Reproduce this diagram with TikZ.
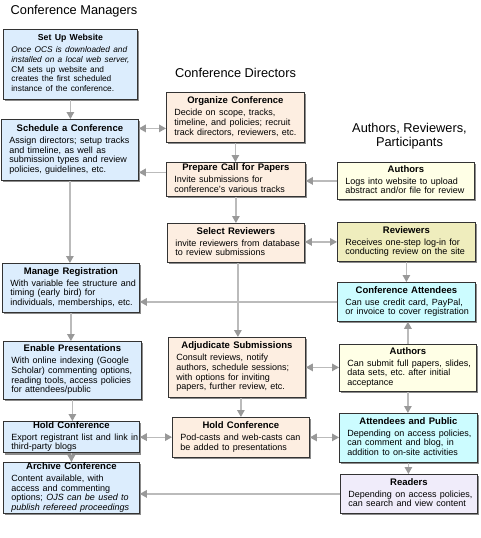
\documentclass[tikz,border=0pt]{standalone}
\usepackage{fontspec}
\setmainfont{Liberation Sans}
\usetikzlibrary{arrows.meta,shadows}
\definecolor{cmblue}{HTML}{DCEDFD}
\definecolor{cdpeach}{HTML}{FDEEE1}
\definecolor{auyellow}{HTML}{FFFFE6}
\definecolor{revyellow}{HTML}{EFEDBD}
\definecolor{attcyan}{HTML}{CCFCFF}
\definecolor{readlav}{HTML}{F0ECFA}
\definecolor{boxborder}{HTML}{333333}
\definecolor{linegray}{HTML}{BBBBBB}
\definecolor{tipgray}{HTML}{999999}
\def\tsz{9.5}\def\bsz{9.0}
\newcommand\bxt[2]{\frenchspacing{\centering\fontsize{\tsz}{10}\selectfont\bfseries #1\par}\fontsize{\bsz}{10}\selectfont\renewcommand\arraystretch{0.97}\noindent\begin{tabular}[t]{@{}l@{}}#2\end{tabular}}
\tikzset{
  box/.style={draw=boxborder, line width=0.8pt, anchor=north west, inner xsep=0pt, inner ysep=0pt,
    drop shadow={shadow xshift=1.8pt, shadow yshift=-1.8pt, fill=black!45, opacity=1}},
  head/.style={font=\fontsize{12.8}{14}\selectfont, inner sep=0pt, anchor=base},
  conn/.style={draw=linegray, line width=1.3pt, -{Triangle[length=7pt,width=7.5pt,color=tipgray]}},
  dconn/.style={draw=linegray, line width=1.3pt, {Triangle[length=7pt,width=7.5pt,color=tipgray]}-{Triangle[length=7pt,width=7.5pt,color=tipgray]}}
}
\begin{document}
\begin{tikzpicture}[x=1pt,y=-1pt]
\useasboundingbox (0,0) rectangle (480,538);
% headings
\node[head] (hcm) at (74,14.2) {Conference Managers};
\node[head] (hcd) at (235.5,77.5) {Conference Directors};
\node[head] (har1) at (409.5,132.5) {Authors, Reviewers,};
\node[head] (har2) at (409.5,146) {Participants};
% left column
\node[box, fill=cmblue, minimum width=134pt, minimum height=70pt, text width=118pt] (setup) at (3,29)
 {\def\tsz{8.7}\def\bsz{8.3}\bxt{Set Up Website}{\itshape Once OCS is downloaded and\\ \itshape installed on a local web server,\\CM sets up website and\\creates the first scheduled\\instance of the conference.}};
\node[box, fill=cmblue, minimum width=137pt, minimum height=61pt, text width=121pt] (sched) at (1,119)
 {\bxt{Schedule a Conference}{Assign directors; setup tracks\\and timeline, as well as\\submission types and review\\policies, guidelines, etc.}};
\node[box, fill=cmblue, minimum width=137pt, minimum height=49pt, text width=121pt] (mreg) at (2,263)
 {\bxt{Manage Registration}{With variable fee structure and\\timing (early bird) for\\individuals, memberships, etc.}};
\node[box, fill=cmblue, minimum width=138pt, minimum height=58pt, text width=122pt] (enable) at (3,341)
 {\bxt{Enable Presentations}{With online indexing (Google\\Scholar) commenting options,\\reading tools, access policies\\for attendees/public}};
\node[box, fill=cmblue, minimum width=136pt, minimum height=31pt, text width=120pt] (holdl) at (3,421)
 {\bxt{Hold Conference}{Export registrant list and link in\\third-party blogs}};
\node[box, fill=cmblue, minimum width=136pt, minimum height=51pt, text width=120pt] (archive) at (3,462)
 {\bxt{Archive Conference}{Content available, with\\access and commenting\\options; \itshape OJS can be used to\\ \itshape publish refereed proceedings}};
% middle column
\node[box, fill=cdpeach, minimum width=138pt, minimum height=50pt, text width=122pt] (org) at (166,92)
 {\bxt{Organize Conference}{Decide on scope, tracks,\\timeline, and policies; recruit\\track directors, reviewers, etc.}};
\node[box, fill=cdpeach, minimum width=139pt, minimum height=34pt, text width=123pt] (prep) at (166,162)
 {\bxt{Prepare Call for Papers}{Invite submissions for\\conference's various tracks}};
\node[box, fill=cdpeach, minimum width=137pt, minimum height=39pt, text width=121pt] (sel) at (167,223)
 {\bxt{Select Reviewers}{invite reviewers from database\\to review submissions}};
\node[box, fill=cdpeach, minimum width=137pt, minimum height=60pt, text width=121pt] (adj) at (168,337)
 {\bxt{Adjudicate Submissions}{Consult reviews, notify\\authors, schedule sessions;\\with options for inviting\\papers, further review, etc.}};
\node[box, fill=cdpeach, minimum width=137pt, minimum height=40pt, text width=121pt] (holdm) at (172,417)
 {\bxt{Hold Conference}{Pod-casts and web-casts can\\be added to presentations}};
% right column
\node[box, fill=auyellow, minimum width=137pt, minimum height=37pt, text width=121pt] (auth1) at (337,162)
 {\bxt{Authors}{Logs into website to upload\\abstract and/or file for review}};
\node[box, fill=revyellow, minimum width=138pt, minimum height=39pt, text width=122pt] (rev) at (337,222)
 {\bxt{Reviewers}{Receives one-step log-in for\\conducting review on the site}};
\node[box, fill=attcyan, minimum width=138pt, minimum height=39pt, text width=122pt] (catt) at (337,282)
 {\bxt{Conference Attendees}{Can use credit card, PayPal,\\or invoice to cover registration}};
\node[box, fill=auyellow, minimum width=137pt, minimum height=47pt, text width=121pt] (auth2) at (339,344)
 {\bxt{Authors}{Can submit full papers, slides,\\data sets, etc. after initial\\acceptance}};
\node[box, fill=attcyan, minimum width=138pt, minimum height=49pt, text width=122pt] (attp) at (339,413)
 {\bxt{Attendees and Public}{Depending on access policies,\\can comment and blog, in\\addition to on-site activities}};
\node[box, fill=readlav, minimum width=137pt, minimum height=39pt, text width=121pt] (read) at (340,474)
 {\bxt{Readers}{Depending on access policies,\\can search and view content}};
% helper coordinates
\coordinate (orgc) at ([yshift=-11pt]org.west);
\coordinate (prepc) at ([yshift=7pt]prep.west);
% connectors
\draw[conn] (setup.south) -- (setup.south |- sched.north);
\draw[dconn] (sched.east |- orgc) -- (orgc);
\draw[conn] (prepc) -- (sched.east |- prepc);
\draw[conn] (org.south) -- (org.south |- prep.north);
\draw[conn] (prep.south) -- (prep.south |- sel.north);
\draw[conn] (auth1.west) -- (prep.east |- auth1.west);
\draw[dconn] (sel.east |- rev.west) -- (rev.west);
\draw[conn] (sched.south) -- (sched.south |- mreg.north);
\draw[conn] (catt.west) -- (mreg.east |- catt.west);
\draw[conn] ([xshift=2pt]sel.south) -- ([xshift=2pt]sel.south |- adj.north);
\draw[conn] (rev.south) -- (rev.south |- catt.north);
\draw[conn] (auth2.north) -- (auth2.north |- catt.south);
\draw[dconn] (adj.east) -- (auth2.west |- adj.east);
\draw[conn] (mreg.south) -- (mreg.south |- enable.north);
\draw[conn] (enable.south) -- (enable.south |- holdl.north);
\draw[dconn] (holdl.east) -- (holdm.west |- holdl.east);
\draw[conn] (holdm.north |- adj.south) -- (holdm.north);
\draw[dconn] (holdm.east) -- (attp.west |- holdm.east);
\draw[conn] (auth2.south) -- (auth2.south |- attp.north);
\draw[conn] (attp.south) -- (attp.south |- read.north);
\draw[conn] (holdl.south) -- (holdl.south |- archive.north);
\draw[conn] (read.west) -- (archive.east |- read.west);
\end{tikzpicture}
\end{document}
